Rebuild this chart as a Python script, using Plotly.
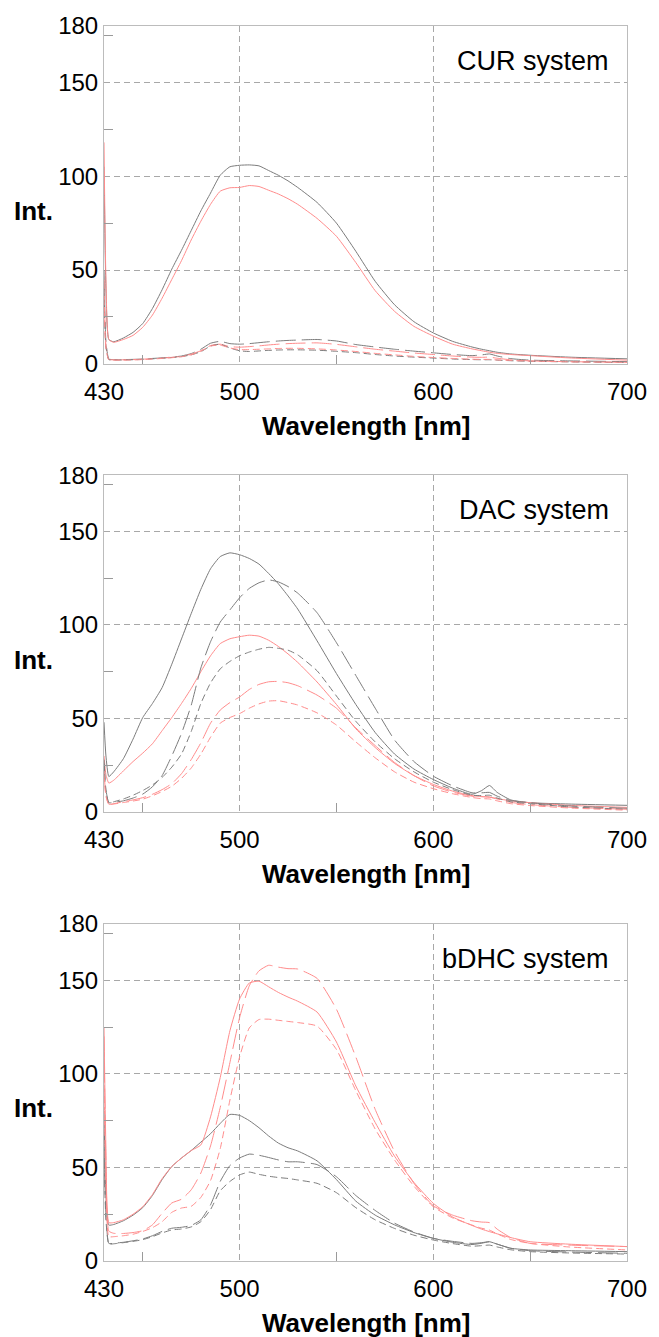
import plotly.graph_objects as go

# Shared wavelength grid (nm)
WL = [430, 431, 432.5, 435, 440, 445, 450, 455, 460, 465, 470, 475, 480, 485, 490,
      495, 500, 505, 510, 515, 520, 525, 530, 540, 550, 560, 570, 580, 590, 600,
      610, 620, 625, 629, 633, 640, 650, 670, 700]

# --- CUR system ---
CUR_GS = [105, 40, 13, 11.8, 13.8, 16.8, 21.5, 29.5, 39.5, 50.5, 60.5, 71, 81.5, 91, 100.5,
          105, 105.8, 106, 105.5, 103, 100.5, 97.5, 94, 86, 75, 60, 44, 31.5, 22.5, 16.5,
          12, 9, 7.8, 7, 6.2, 5.3, 4.6, 3.6, 2.7]
CUR_RS = [118, 45, 13, 11.5, 13, 15.2, 19.5, 26, 35, 45, 55, 66, 76, 85, 92,
          93.8, 94, 95, 94.5, 92.5, 90.5, 88, 85, 77.5, 68, 54, 39, 28, 20, 14.8,
          10.5, 8, 7, 6.2, 5.6, 5, 4.4, 3.2, 2]
CUR_GLD = [50, 12, 2.6, 2.3, 2.3, 2.4, 2.6, 2.9, 3.2, 3.6, 4.2, 5.5, 7.8, 11, 12,
           10.8, 10.5, 10.8, 11.3, 11.8, 12.2, 12.5, 12.7, 13, 12.2, 10.3, 9, 7.8, 6.8, 5.9,
           5, 4.4, 4.8, 5.3, 4.2, 2.8, 2, 1.6, 1.2]
CUR_RLD = [45, 10, 2.4, 2.2, 2.2, 2.3, 2.5, 2.8, 3.1, 3.5, 4, 5.2, 7, 9.8, 10.5,
           9.2, 8.9, 9.2, 9.6, 10.1, 10.5, 10.8, 11, 11.2, 10.4, 9.1, 7.8, 6.8, 5.8, 5,
           4.2, 3.6, 3.5, 3.6, 3, 2.2, 1.6, 1.2, 0.8]
CUR_GSD = [40, 9, 2.3, 2.1, 2.1, 2.2, 2.4, 2.7, 3, 3.4, 3.9, 4.8, 6.5, 9.5, 10.5,
           8.5, 7, 6.6, 6.9, 7.2, 7.4, 7.5, 7.5, 7.3, 6.7, 6, 5, 4.2, 3.6, 3.1,
           2.6, 2.3, 2.2, 2.2, 2, 1.7, 1.4, 1.1, 0.8]
CUR_RSD = [35, 8, 2.2, 2, 2, 2.1, 2.3, 2.6, 2.9, 3.3, 3.8, 4.8, 6.8, 9.5, 10,
           8.5, 7.6, 7.6, 7.8, 8, 8.2, 8.3, 8.3, 8, 7.4, 6.6, 5.6, 4.8, 4, 3.4,
           2.9, 2.5, 2.4, 2.4, 2.1, 1.8, 1.5, 1.1, 0.8]

# --- DAC system ---
DAC_GS = [48, 30, 19, 21.5, 28.5, 39, 50.5, 58, 66.5, 79, 92.5, 106, 119, 130, 136.5,
          138.5, 137.5, 135.5, 132.5, 127.5, 122, 115.5, 108.5, 91.5, 74, 57.5, 42.5, 31, 23, 17.4,
          12.8, 9.5, 11.5, 14.2, 10.5, 6.5, 5, 4.3, 3.6]
DAC_GLD = [28, 12, 5, 5.2, 6, 7.5, 9.6, 13.5, 19.5, 30, 42, 57, 77, 91, 101.5,
           108, 114.5, 119.5, 122.5, 124, 123, 120.5, 117, 106.5, 90.5, 73, 55.5, 38.5, 27, 19.2,
           14, 10.3, 10.3, 10.5, 8.5, 6.2, 5, 3.3, 2]
DAC_GSD = [26, 11, 5, 5.5, 7, 9, 11.5, 14.5, 18.5, 24, 31, 43, 58, 69, 76.5,
           80.5, 83.5, 85.5, 87, 88, 87.5, 86.5, 84, 75.5, 62, 48.5, 37.5, 28.5, 21.5, 16,
           12, 9, 8.8, 9, 7.5, 5.5, 4.5, 2.8, 1.5]
DAC_RS = [30, 20, 15.5, 17, 22, 27, 31.5, 36.5, 43.5, 50.5, 58, 66, 75, 83.5, 90,
          92.6, 93.7, 94.5, 94, 91.8, 88.5, 84.5, 80, 69.5, 57.5, 44.5, 34.5, 26, 19.5, 14.8,
          11.2, 8.8, 8.3, 8, 7.2, 6, 5, 3.6, 2.5]
DAC_RLD = [22, 9, 4.2, 4.5, 5.5, 6.5, 7.7, 9.5, 12, 15.2, 20.5, 28, 37, 47.5, 54.5,
           58.5, 61.5, 65.5, 68.2, 69.6, 69.8, 69.1, 67.5, 62.5, 55.5, 45, 35.5, 26.5, 19.5, 14,
           10.6, 8.5, 8.2, 8, 7, 5.2, 4, 2.6, 1.5]
DAC_RSD = [20, 8.5, 4, 4.3, 5.1, 5.9, 6.9, 8.7, 11, 13.8, 18, 23.5, 31, 40, 47.5,
           50.5, 52.6, 55.5, 57.8, 59.3, 59.5, 58.5, 57.2, 53, 46.5, 37.5, 29, 21.5, 16, 12.5,
           9.8, 7.8, 7.2, 7, 6, 4.5, 3.5, 2.2, 1]

# --- bDHC system ---
BDHC_GS = [80, 35, 19.2, 19.5, 21.5, 24.5, 28.5, 35, 43.5, 50.5, 55, 59, 63.5, 68, 73.5,
           78.3, 77.8, 75, 71.2, 66.8, 63, 60.5, 58.8, 53.5, 43.5, 32, 24.5, 19.3, 15.2, 12.1,
           10, 8.8, 9.5, 10.3, 9, 6.8, 5.9, 5.5, 5]
BDHC_GLD = [60, 25, 9.4, 9.5, 10, 10.8, 11.8, 13.5, 15.8, 17.5, 18, 19, 22, 30, 42.5,
            51, 55, 57.1, 56.5, 55.3, 54, 53, 53, 51.5, 45, 35, 27, 20.2, 15.5, 12.1,
            10.5, 9.4, 9.8, 10.3, 9, 6.8, 5.5, 4.8, 4.1]
BDHC_GSD = [55, 22, 9.1, 9.2, 9.8, 10.5, 11.4, 13, 15, 16.6, 17.1, 18.2, 21, 27.5, 37.5,
            42.5, 46, 47.5, 46.3, 45.3, 44.6, 44.1, 43.3, 41.5, 36.5, 28.5, 22, 17.4, 13.8, 11.2,
            9.3, 7.9, 8.2, 8.5, 7.5, 6, 5, 4.3, 3.7]
BDHC_RS = [125, 60, 20.5, 20.5, 22, 25, 29, 35.5, 44, 50.5, 55, 59, 62, 77, 98,
           123, 140, 148.5, 149.5, 146.5, 143.5, 141, 138.8, 133, 117, 93.5, 74, 56, 42, 30.8,
           23.5, 19, 17, 15.7, 14.5, 12.5, 10.3, 9, 7.7]
BDHC_RLD = [120, 50, 16, 14.8, 14.7, 15.2, 16.2, 19.3, 25.5, 31, 33, 38, 47, 61.5, 82,
            106, 130, 147, 155, 158, 157, 156.2, 156, 151, 134.5, 109, 81, 58.5, 41.5, 29.5,
            24.5, 21.5, 20.8, 20.5, 17, 12.5, 9.4, 8.5, 7.7]
BDHC_RSD = [100, 40, 13, 13, 13.5, 14.3, 15.8, 17.8, 21, 26, 28.3, 29.2, 34, 43, 60,
            86, 109, 124.5, 129, 129.2, 128.6, 128, 127.4, 125.5, 113, 91, 70.5, 54, 40, 29,
            23, 19.2, 17.5, 16.5, 14.5, 11.5, 9.4, 7.5, 5.9]

PANEL_LABELS = ["CUR system", "DAC system", "bDHC system"]
X_TICKS = [430, 500, 600, 700]
Y_TICKS = [0, 50, 100, 150, 180]

GRAY = "#7c7c7c"
RED = "#ff8c8c"
LONG = "20px,6px"
SHORT = "7px,4px"

panels = [
    [(CUR_GS, GRAY, "solid"), (CUR_RS, RED, "solid"), (CUR_GLD, GRAY, LONG),
     (CUR_RLD, RED, LONG), (CUR_GSD, GRAY, SHORT), (CUR_RSD, RED, SHORT)],
    [(DAC_GS, GRAY, "solid"), (DAC_RS, RED, "solid"), (DAC_GLD, GRAY, LONG),
     (DAC_RLD, RED, LONG), (DAC_GSD, GRAY, SHORT), (DAC_RSD, RED, SHORT)],
    [(BDHC_GS, GRAY, "solid"), (BDHC_RS, RED, "solid"), (BDHC_GLD, GRAY, LONG),
     (BDHC_RLD, RED, LONG), (BDHC_GSD, GRAY, SHORT), (BDHC_RSD, RED, SHORT)],
]

domains = [[0.7264, 1.0], [0.3635, 0.6363], [0.0, 0.2728]]

FONT = "Liberation Sans, Arial, Helvetica, sans-serif"

fig = go.Figure()
layout = dict(
    width=659, height=1337,
    margin=dict(l=104, r=24, t=23, b=76),
    paper_bgcolor="white", plot_bgcolor="white",
    showlegend=False,
    font=dict(family=FONT, size=24, color="black"),
)
annotations = []
for i, series in enumerate(panels):
    n = "" if i == 0 else str(i + 1)
    for ys, col, dash in series:
        fig.add_trace(go.Scatter(x=WL, y=ys, mode="lines", xaxis="x" + n, yaxis="y" + n,
                                 line=dict(color=col, width=1, dash=dash,
                                           shape="spline", smoothing=0.5),
                                 cliponaxis=True, hoverinfo="skip"))
    layout["xaxis" + n] = dict(
        domain=[0, 1], anchor="y" + n, range=[430, 700],
        tickmode="array", tickvals=X_TICKS, ticks="", ticklabelstandoff=6,
        showgrid=True, gridcolor="#a8a8a8", griddash="6px,4px", gridwidth=1,
        showline=True, mirror=True, linecolor="#bcbcbc", linewidth=1,
        zeroline=False, tickfont=dict(family=FONT, size=24, color="black"),
        minor=dict(tickmode="array", tickvals=[450, 550, 650], ticks="inside",
                   ticklen=9, tickcolor="#9a9a9a", tickwidth=1, showgrid=False),
    )
    layout["yaxis" + n] = dict(
        domain=domains[i], anchor="x" + n, range=[0, 180],
        tickmode="array", tickvals=Y_TICKS, ticks="",
        showgrid=True, gridcolor="#a8a8a8", griddash="6px,4px", gridwidth=1,
        showline=True, mirror=True, linecolor="#bcbcbc", linewidth=1,
        zeroline=False, tickfont=dict(family=FONT, size=24, color="black"),
        minor=dict(tickmode="array", tickvals=[25, 75, 125, 175], ticks="inside",
                   ticklen=9, tickcolor="#9a9a9a", tickwidth=1, showgrid=False),
    )
    xd = "x" + n + " domain"
    yd = "y" + n + " domain"
    annotations.append(dict(text=PANEL_LABELS[i], xref=xd, yref=yd, x=0.97, y=0.8967,
                            xanchor="right", yanchor="middle", showarrow=False,
                            font=dict(family=FONT, size=27, color="black")))
    annotations.append(dict(text="<b>Int.</b>", xref=xd, yref=yd, x=-0.135, y=0.4527,
                            xanchor="center", yanchor="middle", showarrow=False,
                            font=dict(family=FONT, size=26, color="black")))
    annotations.append(dict(text="<b>Wavelength [nm]</b>", xref=xd, yref=yd, x=0.5, y=0,
                            yshift=-62, xanchor="center", yanchor="middle", showarrow=False,
                            font=dict(family=FONT, size=26, color="black")))

layout["annotations"] = annotations
fig.update_layout(**layout)
fig.write_html("out.html")
